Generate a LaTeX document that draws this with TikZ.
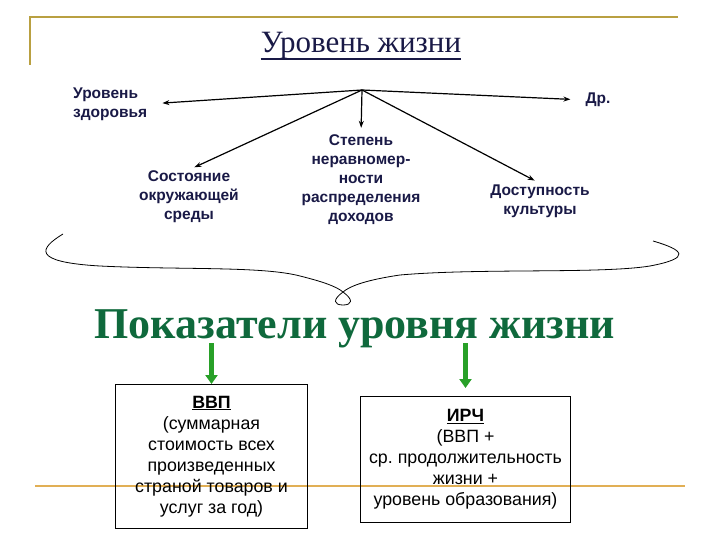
\documentclass[tikz,border=0pt]{standalone}
\usepackage{fontspec}
\setmainfont{Liberation Serif}
\setsansfont{Liberation Sans}
\usetikzlibrary{arrows.meta}
\definecolor{navy}{RGB}{25,25,70}
\definecolor{gold}{RGB}{185,160,65}
\definecolor{goldlt}{RGB}{225,175,85}
\definecolor{dgreen}{RGB}{15,105,60}
\definecolor{agreen}{RGB}{40,160,40}
\frenchspacing

\begin{document}
\begin{tikzpicture}[x=1pt, y=-1pt, >={Stealth[length=7pt,width=5pt]},
  lbl/.style={font=\sffamily\bfseries\fontsize{15.5}{19}\selectfont, text=navy, align=center, inner sep=1pt},
  box/.style={draw, line width=1pt, align=center, anchor=north west, font=\sffamily\fontsize{17.8}{21}\selectfont},
  garrow/.style={-{Triangle[length=9pt,width=12pt]}, line width=4.5pt, agreen}]
  \useasboundingbox (0,0) rectangle (720,540);

  % 1. линии шаблона (нижний слой)
  \draw[gold, line width=2.5pt] (30,65) -- (30,17) -- (678,17);
  \draw[goldlt, line width=2.5pt] (35,486) -- (685,486);

  % 2. заголовок
  \node[font=\fontsize{31}{34}\selectfont, text=navy, inner sep=0pt, anchor=base] (title) at (361,53) {Уровень жизни};
  \draw[navy, line width=1.8pt] ([yshift=-6pt]title.base west) -- ([yshift=-6pt]title.base east);

  % 3. составляющие уровня жизни
  \coordinate (hub) at (362,90);
  \node[lbl, align=left, anchor=west] (zdor) at (72,104) {Уровень\\здоровья};
  \node[lbl] (dr) at (598,100) {Др.};
  \node[lbl] (sost) at (189,197) {Состояние\\окружающей\\среды};
  \node[lbl] (step) at (361,180) {Степень\\неравномер-\\ности\\распределения\\доходов};
  \node[lbl] (dost) at (540,201) {Доступность\\культуры};

  \draw[->, line width=1.2pt, shorten >=14pt] (hub) -- (zdor.east);
  \draw[->, line width=1.2pt, shorten >=14pt] (hub) -- (dr.west);
  \draw[->, line width=1.2pt, shorten >=6pt] (hub) -- (sost.north);
  \draw[->, line width=1.2pt, shorten >=6pt] (hub) -- (step.north);
  \draw[->, line width=1.2pt, shorten >=6pt] (hub) -- (dost.north);

  % 4. фигурная скобка
  \draw[line width=0.8pt] (63,234) .. controls (40,248) and (30,262) .. (100,266)
    .. controls (180,270) and (262,266) .. (300,276)
    .. controls (320,281) and (336,286) .. (343,292)
    .. controls (354,300) and (352,305) .. (343,305)
    .. controls (334,305) and (332,300) .. (343,292)
    .. controls (350,286) and (366,280) .. (400,275)
    .. controls (480,268) and (600,274) .. (650,266)
    .. controls (692,258) and (684,250) .. (653,241);

  % 5. показатели
  \node[font=\bfseries\fontsize{44}{48}\selectfont, text=dgreen, anchor=base] (pokaz) at (355,338) {Показатели уровня жизни};
  \node[box, minimum width=192pt, minimum height=144pt] (vvp) at (115,384)
    {\underline{\textbf{ВВП}}\\(суммарная\\стоимость всех\\произведенных\\страной товаров и\\услуг за год)};
  \node[box, minimum width=210pt, minimum height=126pt] (irch) at (360,396)
    {\underline{\textbf{ИРЧ}}\\(ВВП +\\ср. продолжительность\\жизни +\\уровень образования)};

  \draw[garrow] (vvp.north |- 0,343) -- (vvp.north);
  \draw[garrow, shorten >=8pt] (irch.north |- 0,343) -- (irch.north);
\end{tikzpicture}
\end{document}
